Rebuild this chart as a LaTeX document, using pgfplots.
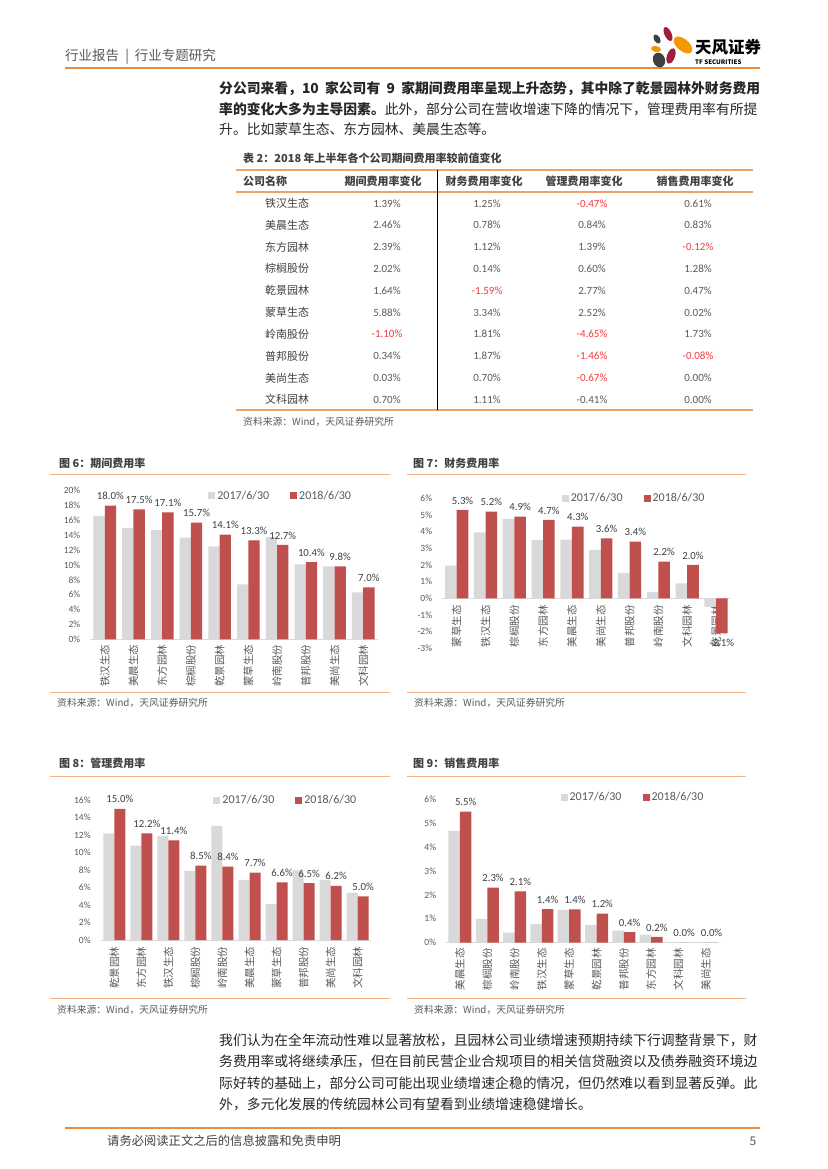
\documentclass[border=0pt]{standalone}
\usepackage{fontspec}
\setmainfont{Noto Sans CJK SC}
\newfontfamily\carlito{Carlito}
\usepackage{pgfplots}
\pgfplotsset{compat=1.18}
\XeTeXlinebreaklocale "zh"
\XeTeXlinebreakskip=0pt plus 1pt
\definecolor{barg}{HTML}{D9D9D9}
\definecolor{barr}{HTML}{C0504D}
\definecolor{tgray}{HTML}{595959}
\definecolor{tdark}{HTML}{404040}
\definecolor{tbody}{HTML}{262626}
\definecolor{orline}{HTML}{ED8A3C}
\definecolor{orlight}{HTML}{F4B183}
\definecolor{tred}{HTML}{F03C3C}
\definecolor{axg}{HTML}{D9D9D9}
\definecolor{lgred}{HTML}{9E1F3C}
\definecolor{lgor}{HTML}{F39800}
\definecolor{lggr}{HTML}{3F3F3F}
\newcommand\fs[1]{\fontsize{#1}{#1}\selectfont}
\newcommand\rv[1]{\textcolor{tred}{#1}}
\pgfplotsset{
  sqleg/.style={legend image code/.code={\fill[##1] (0pt,-3.5pt) rectangle (7pt,3.5pt);}},
  mychart/.style={
    scale only axis, clip=false, ybar=0pt,
    axis x line*=middle, axis y line*=left,
    hide obscured x ticks=false, hide obscured y ticks=false,
    y axis line style={draw=none},
    x axis line style={draw=axg, line width=0.8pt},
    major tick length=0pt, tick style={draw=none},
    xmin=-0.5, xmax=9.5, xtick={0,...,9},
    /pgf/number format/assume math mode=true,
    yticklabel={\pgfmathprintnumber{\tick}\%},
    yticklabel style={font=\carlito\fs{9.5}, text=tgray, anchor=east, inner sep=0pt, xshift=-10pt},
    xticklabel style={font=\fs{10.5}, text=tgray, inner sep=0pt, yshift=#1, rotate=90, anchor=east},
    legend columns=2,
    legend style={draw=none, fill=none, font=\carlito\fs{12}, text=tgray, inner sep=0pt, anchor=west,
      /tikz/every even column/.append style={column sep=19pt}},
  },
  redbar/.style={fill=barr, draw=none, sqleg,
    nodes near coords={\pgfmathprintnumber[fixed,fixed zerofill,precision=1]{\pgfplotspointmeta}\%},
    every node near coord/.append style={font=\carlito\fs{10.8}, text=tdark, inner sep=5.5pt}},
  graybar/.style={fill=barg, draw=none, sqleg},
}
\begin{document}
\begin{tikzpicture}[x=1pt,y=-1pt]
\useasboundingbox (0,0) rectangle (827,1169);
\fill[white] (0,0) rectangle (827,1169);
% header
\node[anchor=west, text=tgray, font=\fs{13.5}, inner sep=0pt] at (65,57) {行业报告\hspace{0.45em}|\hspace{0.45em}行业专题研究};
\draw[orline, line width=2pt] (65,68.5) -- (760,68.5);
% logo
\fill[lgred, rotate around={25:(668,34)}] (668,34) ellipse (3.5 and 7.5);
\fill[lgor, rotate around={-40:(683,45)}] (683,45) ellipse (11 and 6);
\fill[lggr, rotate around={30:(657,39)}] (657,39) ellipse (3 and 5);
\fill[lgor, rotate around={-10:(656,49)}] (656,49) ellipse (5 and 3);
\fill[lgred, rotate around={-20:(671,56)}] (671,56) ellipse (4 and 8);
\fill[lggr, rotate around={20:(659,60)}] (659,60) ellipse (6 and 7.5);
\node[anchor=west, font=\fs{16.5}\bfseries, inner sep=0pt] at (695,47) {天风证券};
\node[anchor=west, font=\fs{6.2}\bfseries, inner sep=0pt] at (695,62.5) {TF SECURITIES};
% top paragraph
\begin{scope}[every node/.style={anchor=west, inner sep=0pt, text=tbody, font=\fs{13.8}}]
\node at (219,89) {\makebox[541pt][s]{\bfseries 分公司来看，10 家公司有 9 家期间费用率呈现上升态势，其中除了乾景园林外财务费用}};
\node at (219,109) {\makebox[541pt][s]{\textbf{率的变化大多为主导因素。}此外，部分公司在营收增速下降的情况下，管理费用率有所提}};
\node at (219,129.5) {升。比如蒙草生态、东方园林、美晨生态等。};
\end{scope}
% table
\node[anchor=west, inner sep=0pt, font=\fs{11}\bfseries, text=tdark] at (243,158.5) {表 2：2018 年上半年各个公司期间费用率较前值变化};
\draw[orline!80, line width=1.5pt] (236,170) -- (753,170);
\draw[orline!80, line width=1.5pt] (236,192) -- (753,192);
\draw[orline!80, line width=1.5pt] (236,410) -- (753,410);
\draw[black, line width=0.9pt] (437,170) -- (437,410);
\begin{scope}[every node/.style={inner sep=0pt, font=\fs{11}\bfseries, text=tdark}]
\node[anchor=west] at (243,181) {公司名称};
\node at (383,181) {期间费用率变化};
\node at (484,181) {财务费用率变化};
\node at (584,181) {管理费用率变化};
\node at (695,181) {销售费用率变化};
\end{scope}
\foreach \nm/\va/\vb/\vc/\vd [count=\i from 0] in {
铁汉生态/1.39\%/1.25\%/\rv{-0.47\%}/0.61\%,
美晨生态/2.46\%/0.78\%/0.84\%/0.83\%,
东方园林/2.39\%/1.12\%/1.39\%/\rv{-0.12\%},
棕榈股份/2.02\%/0.14\%/0.60\%/1.28\%,
乾景园林/1.64\%/\rv{-1.59\%}/2.77\%/0.47\%,
蒙草生态/5.88\%/3.34\%/2.52\%/0.02\%,
岭南股份/\rv{-1.10\%}/1.81\%/\rv{-4.65\%}/1.73\%,
普邦股份/0.34\%/1.87\%/\rv{-1.46\%}/\rv{-0.08\%},
美尚生态/0.03\%/0.70\%/\rv{-0.67\%}/0.00\%,
文科园林/0.70\%/1.11\%/-0.41\%/0.00\%}{
  \pgfmathsetmacro\yy{203.4+21.8*\i}
  \node[anchor=west, inner sep=0pt, font=\fs{11}, text=tdark] at (265,\yy) {\nm};
  \node[inner sep=0pt, font=\carlito\fs{11}, text=tgray] at (387,\yy) {\va};
  \node[inner sep=0pt, font=\carlito\fs{11}, text=tgray] at (487,\yy) {\vb};
  \node[inner sep=0pt, font=\carlito\fs{11}, text=tgray] at (592,\yy) {\vc};
  \node[inner sep=0pt, font=\carlito\fs{11}, text=tgray] at (698,\yy) {\vd};
}
\node[anchor=west, inner sep=0pt, font=\fs{9.8}, text=tgray] at (243,421.5) {资料来源：Wind，天风证券研究所};
% chart frames
\begin{scope}[every node/.style={anchor=west, inner sep=0pt}]
\node[font=\fs{11}\bfseries, text=tdark] at (59,463) {图 6：期间费用率};
\node[font=\fs{11}\bfseries, text=tdark] at (413,463) {图 7：财务费用率};
\node[font=\fs{11}\bfseries, text=tdark] at (59,763) {图 8：管理费用率};
\node[font=\fs{11}\bfseries, text=tdark] at (413,763) {图 9：销售费用率};
\node[font=\fs{9.8}, text=tgray] at (57,703) {资料来源：Wind，天风证券研究所};
\node[font=\fs{9.8}, text=tgray] at (414,703) {资料来源：Wind，天风证券研究所};
\node[font=\fs{9.8}, text=tgray] at (57,1010) {资料来源：Wind，天风证券研究所};
\node[font=\fs{9.8}, text=tgray] at (414,1010) {资料来源：Wind，天风证券研究所};
\end{scope}
\draw[orlight, line width=1pt] (50,474) -- (390,474);
\draw[orlight, line width=1pt] (407,474) -- (746,474);
\draw[orlight, line width=1pt] (50,776) -- (390,776);
\draw[orlight, line width=1pt] (407,776) -- (746,776);
\draw[orlight, line width=1pt] (50,692) -- (390,692);
\draw[orlight, line width=1pt] (407,692) -- (746,692);
\draw[orlight, line width=1pt] (50,998) -- (390,998);
\draw[orlight, line width=1pt] (407,998) -- (746,998);
% chart 6
\begin{axis}[mychart=-5pt, at={(90.4pt,-639.3pt)}, anchor=south west,
  width=287.2pt, height=148.6pt, ymin=0, ymax=20, ytick={0,2,...,20}, bar width=11.3pt,
  xticklabels={铁汉生态,美晨生态,东方园林,棕榈股份,乾景园林,蒙草生态,岭南股份,普邦股份,美尚生态,文科园林},
  legend style={at={(0.410,0.966)}}]
\addplot[graybar] coordinates {(0,16.6) (1,15.0) (2,14.7) (3,13.7) (4,12.5) (5,7.4) (6,13.8) (7,10.1) (8,9.8) (9,6.3)};
\addplot[redbar] coordinates {(0,18.0) (1,17.5) (2,17.1) (3,15.7) (4,14.1) (5,13.3) (6,12.7) (7,10.4) (8,9.8) (9,7.0)};
\legend{2017/6/30,2018/6/30}
\end{axis}
% chart 7
\begin{axis}[mychart=-6.5pt, at={(442.3pt,-648.3pt)}, anchor=south west,
  width=288.1pt, height=150pt, ymin=-3, ymax=6, ytick={-3,...,6}, bar width=11.6pt,
  xticklabels={蒙草生态,铁汉生态,棕榈股份,东方园林,美晨生态,美尚生态,普邦股份,岭南股份,文科园林,乾景园林},
  legend style={at={(0.414,1.0)}}]
\addplot[graybar] coordinates {(0,1.96) (1,3.95) (2,4.76) (3,3.5) (4,3.52) (5,2.9) (6,1.53) (7,0.39) (8,0.89) (9,-0.51)};
\addplot[redbar] coordinates {(0,5.3) (1,5.2) (2,4.9) (3,4.7) (4,4.3) (5,3.6) (6,3.4) (7,2.2) (8,2.0) (9,-2.1)};
\legend{2017/6/30,2018/6/30}
\end{axis}
% chart 8
\begin{axis}[mychart=-6.5pt, at={(100.8pt,-940pt)}, anchor=south west,
  width=270.4pt, height=140pt, ymin=0, ymax=16, ytick={0,2,...,16}, bar width=11pt,
  xticklabels={乾景园林,东方园林,铁汉生态,棕榈股份,岭南股份,美晨生态,蒙草生态,普邦股份,美尚生态,文科园林},
  legend style={at={(0.416,1.0)}}]
\addplot[graybar] coordinates {(0,12.2) (1,10.8) (2,11.9) (3,7.9) (4,13.05) (5,6.86) (6,4.1) (7,7.96) (8,6.87) (9,5.41)};
\addplot[redbar] coordinates {(0,15.0) (1,12.2) (2,11.4) (3,8.5) (4,8.4) (5,7.7) (6,6.6) (7,6.5) (8,6.2) (9,5.0)};
\legend{2017/6/30,2018/6/30}
\end{axis}
% chart 9
\begin{axis}[mychart=-5.5pt, at={(446.3pt,-942.7pt)}, anchor=south west,
  width=273.1pt, height=143.7pt, ymin=0, ymax=6, ytick={0,...,6}, bar width=11.5pt,
  xticklabels={美晨生态,棕榈股份,岭南股份,铁汉生态,蒙草生态,乾景园林,普邦股份,东方园林,文科园林,美尚生态},
  legend style={at={(0.418,1.014)}}]
\addplot[graybar] coordinates {(0,4.67) (1,1.0) (2,0.42) (3,0.79) (4,1.37) (5,0.74) (6,0.5) (7,0.34) (8,0) (9,0)};
\addplot[redbar] coordinates {(0,5.47) (1,2.30) (2,2.14) (3,1.40) (4,1.39) (5,1.21) (6,0.44) (7,0.24) (8,0.0) (9,0.0)};
\legend{2017/6/30,2018/6/30}
\end{axis}
% bottom paragraph
\begin{scope}[every node/.style={anchor=west, inner sep=0pt, text=tbody, font=\fs{13.8}}]
\node at (219,1040) {\makebox[541pt][s]{我们认为在全年流动性难以显著放松，且园林公司业绩增速预期持续下行调整背景下，财}};
\node at (219,1061.5) {\makebox[541pt][s]{务费用率或将继续承压，但在目前民营企业合规项目的相关信贷融资以及债券融资环境边}};
\node at (219,1083) {\makebox[541pt][s]{际好转的基础上，部分公司可能出现业绩增速企稳的情况，但仍然难以看到显著反弹。此}};
\node at (219,1104) {外，多元化发展的传统园林公司有望看到业绩增速稳健增长。};
\end{scope}
% footer
\draw[orline, line width=2pt] (65,1128) -- (760,1128);
\node[anchor=west, inner sep=0pt, font=\fs{12.3}, text=tdark] at (107,1141) {请务必阅读正文之后的信息披露和免责申明};
\node[inner sep=0pt, font=\fs{12}, text=tgray] at (753,1141) {5};
\end{tikzpicture}
\end{document}
